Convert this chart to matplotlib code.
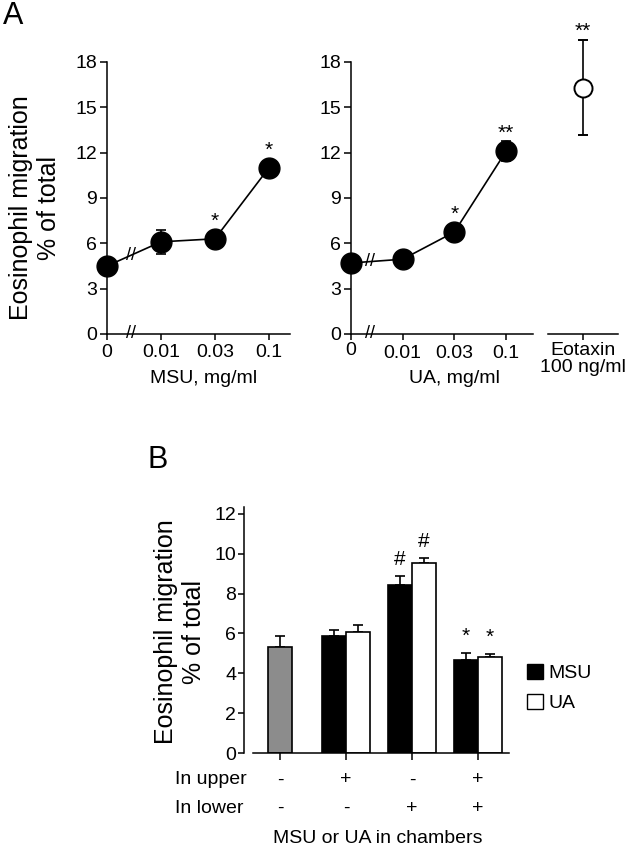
import numpy as np
import matplotlib
matplotlib.use("Agg")
import matplotlib.pyplot as plt
from matplotlib.patches import Patch
from matplotlib.transforms import blended_transform_factory, ScaledTranslation

plt.rcParams['font.family'] = ['Liberation Sans', 'DejaVu Sans']
plt.rcParams['axes.linewidth'] = 1.1
plt.rcParams['xtick.major.width'] = 1.1
plt.rcParams['ytick.major.width'] = 1.1

### Panel A - dose response
dose_labels = ["0", "0.01", "0.03", "0.1"]
msu_mean = [4.5, 6.1, 6.3, 11.0]
msu_sem = [0.3, 0.8, 0.3, 0.3]
msu_sig = ["", "", "*", "*"]
ua_mean = [4.7, 4.95, 6.75, 12.1]
ua_sem = [0.3, 0.25, 0.3, 0.66]
ua_sig = ["", "", "*", "**"]
eotaxin_label = ["Eotaxin\n100 ng/ml"]
eotaxin_mean = [16.3]
eotaxin_sem = [3.15]
eotaxin_sig = ["**"]

### Panel B - chambers
upper_row = ["-", "+", "-", "+"]
lower_row = ["-", "-", "+", "+"]
ctrl_mean = [5.32]
ctrl_sem = [0.53]
msu_b_mean = [5.89, 8.44, 4.68]
msu_b_sem = [0.30, 0.46, 0.34]
msu_b_sig = ["", "#", "*"]
ua_b_mean = [6.05, 9.53, 4.83]
ua_b_sem = [0.39, 0.24, 0.14]
ua_b_sig = ["", "#", "*"]

W, H = 631, 855
fig = plt.figure(figsize=(W/100, H/100), dpi=100)
fig.patch.set_facecolor("white")

def ax_at(l, t, r, b):
    return fig.add_axes([l/W, 1-b/H, (r-l)/W, (b-t)/H])

def style(ax):
    ax.spines["top"].set_visible(False)
    ax.spines["right"].set_visible(False)

def dose_panel(ax, mean, sem, sig, xmax, break_x, xlabel, label_x, pad):
    x = np.arange(len(mean))
    ax.errorbar(x, mean, yerr=sem, fmt="none", ecolor="black", elinewidth=1.2,
                capsize=3.6, capthick=1.2, clip_on=False, zorder=2)
    ax.plot(x, mean, color="black", lw=1.2, marker="o", ms=15, mfc="black",
            mec="black", clip_on=False, zorder=3)
    for xi, m, s, t in zip(x, mean, sem, sig):
        if t:
            ax.text(xi, max(m+s, m+0.7)-0.15, t, ha="center", va="bottom", fontsize=15)
    ax.set_xlim(0, xmax)
    ax.set_ylim(0, 18)
    ax.set_yticks(range(0, 19, 3))
    ax.set_xticks(x)
    ax.set_xticklabels(dose_labels)
    style(ax)
    ax.tick_params(axis="y", direction="out", length=5, labelsize=14, pad=2)
    ax.tick_params(axis="x", direction="out", length=4.5, labelsize=14, pad=pad)
    # axis break marks
    ax.text(break_x, 0, "//", ha="center", va="center", fontsize=13, clip_on=False)
    ax.text(break_x, np.interp(break_x, x, mean), "//", ha="center", va="center", fontsize=13)
    ax.set_xlabel(xlabel, fontsize=14)
    ax.xaxis.set_label_coords(label_x/xmax, -0.133, transform=ax.transAxes)
    ax.xaxis.label.set_va("top")

ax1 = ax_at(107, 62, 290, 334)
dose_panel(ax1, msu_mean, msu_sem, msu_sig, 3.39, 0.44, "MSU, mg/ml", 1.78, 2.5)
ax2 = ax_at(351, 62, 533, 334)
dose_panel(ax2, ua_mean, ua_sem, ua_sig, 3.52, 0.37, "UA, mg/ml", 2.0, 3.5)
lab0 = ax2.get_xticklabels()[0]
lab0.set_transform(lab0.get_transform() + ScaledTranslation(0, 3/100, fig.dpi_scale_trans))

ax3 = ax_at(548, 62, 618, 334)
ax3.errorbar([1], eotaxin_mean, yerr=eotaxin_sem, fmt="o", color="black", ms=13,
             mfc="white", mec="black", mew=1.4, elinewidth=1.2, capsize=3.6,
             capthick=1.2, clip_on=False)
for m, s, t in zip(eotaxin_mean, eotaxin_sem, eotaxin_sig):
    ax3.text(1, m+s-0.05, t, ha="center", va="bottom", fontsize=15)
ax3.set_xlim(0, 2)
ax3.set_ylim(0, 18)
ax3.set_xticks([1])
ax3.set_xticklabels(eotaxin_label, linespacing=1.05)
ax3.set_yticks([])
style(ax3)
ax3.spines["left"].set_visible(False)
ax3.tick_params(axis="x", direction="out", length=4.5, labelsize=14, pad=1)

fig.text(35/W, 1-208/H, "Eosinophil migration\n% of total", rotation=90,
         ha="center", va="center", fontsize=18, multialignment="center")
fig.text(3/W, 1-16/H, "A", ha="left", va="center", fontsize=22)

### Panel B
axb = ax_at(244, 507, 509, 753)
groups = np.arange(len(upper_row))
bw = 0.36
axb.bar(groups[:1], ctrl_mean, width=bw, color="#8c8c8c", edgecolor="black", lw=1.2, zorder=2)
axb.bar(groups[1:]-bw/2, msu_b_mean, width=bw, color="black", edgecolor="black", lw=1.2, zorder=2)
axb.bar(groups[1:]+bw/2, ua_b_mean, width=bw, color="white", edgecolor="black", lw=1.2, zorder=2)
err_kw = dict(fmt="none", ecolor="black", elinewidth=1.2, capsize=3.6, capthick=1.2, zorder=1)
axb.errorbar(groups[:1], ctrl_mean, yerr=[[0], ctrl_sem], **err_kw)
axb.errorbar(groups[1:]-bw/2, msu_b_mean, yerr=[[0]*3, msu_b_sem], **err_kw)
axb.errorbar(groups[1:]+bw/2, ua_b_mean, yerr=[[0]*3, ua_b_sem], **err_kw)
for xs, means, sems, sigs in [(groups[1:]-bw/2, msu_b_mean, msu_b_sem, msu_b_sig),
                              (groups[1:]+bw/2, ua_b_mean, ua_b_sem, ua_b_sig)]:
    for xi, m, s, t in zip(xs, means, sems, sigs):
        if t:
            axb.text(xi, m+s+0.35, t, ha="center", va="bottom", fontsize=15)

axb.set_xlim(-0.545, 3.47)
axb.set_ylim(0, 12.35)
axb.set_yticks(range(0, 13, 2))
axb.set_xticks(groups)
axb.set_xticklabels([])
style(axb)
axb.spines["bottom"].set_bounds(-0.41, 3.47)
axb.tick_params(axis="y", direction="out", length=4.5, labelsize=14, pad=1)
axb.tick_params(axis="x", direction="out", length=5)

tr = blended_transform_factory(axb.transData, fig.transFigure)
for row, label, ypix in [(upper_row, "In upper", 780), (lower_row, "In lower", 808)]:
    fig.text(175/W, 1-ypix/H, label, ha="left", va="center", fontsize=14)
    for g, s in zip(groups, row):
        axb.text(g, 1-ypix/H, s, transform=tr, ha="center", va="center", fontsize=14)
fig.text(378/W, 1-838/H, "MSU or UA in chambers", ha="center", va="center", fontsize=14)

fig.text(180/W, 1-632/H, "Eosinophil migration\n% of total", rotation=90,
         ha="center", va="center", fontsize=18, multialignment="center")
fig.text(147/W, 1-460/H, "B", ha="left", va="center", fontsize=22)

axb.legend(handles=[Patch(fc="black", ec="black"), Patch(fc="white", ec="black")],
           labels=["MSU", "UA"], frameon=False, loc="upper left",
           bbox_to_anchor=(527/W, 1-664/H), bbox_transform=fig.transFigure,
           handlelength=0.8, handleheight=0.8, handletextpad=0.3, labelspacing=0.6,
           borderpad=0, borderaxespad=0, fontsize=14)

fig.savefig("out.png", dpi=100, facecolor="white")
